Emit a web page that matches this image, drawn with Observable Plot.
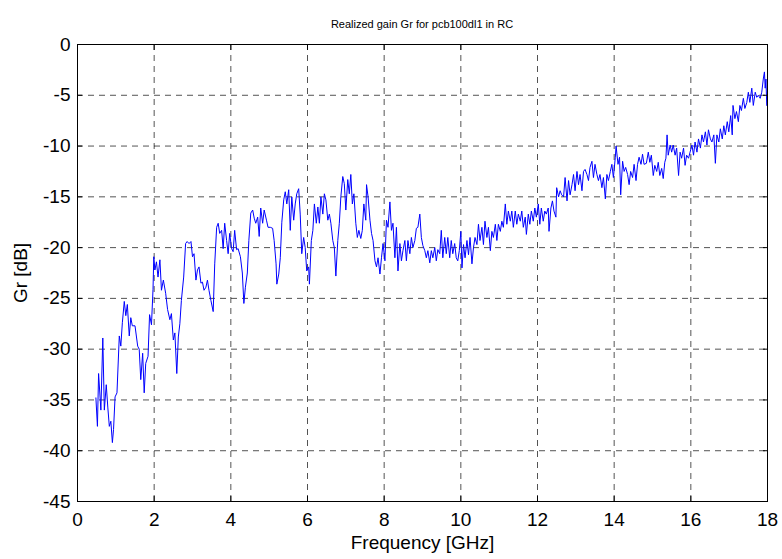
<!DOCTYPE html>
<html>
<head>
<meta charset="utf-8">
<script src="https://cdn.jsdelivr.net/npm/d3@7"></script>
<script src="https://cdn.jsdelivr.net/npm/@observablehq/plot@0.6"></script>
<style>
  body { margin: 0; background: #fff; font-family: "Liberation Sans", Arial, sans-serif; }
  #title { height: 34px; box-sizing: border-box; padding: 18px 15px 0 77px; text-align: center; font-size: 11px; color: #000; line-height: 13px; }
</style>
</head>
<body>
<div id="title">Realized gain Gr for pcb100dl1 in RC</div>
<div id="chart"></div>
<script>
const titleText = "Realized gain Gr for pcb100dl1 in RC";
const xLabel = "Frequency [GHz]";
const yLabel = "Gr [dB]";
const xTicks = [0, 2, 4, 6, 8, 10, 12, 14, 16, 18];
const yTicks = [0, -5, -10, -15, -20, -25, -30, -35, -40, -45];

// Frequency (GHz)
const freq = [
0.48,0.52,0.55,0.61,0.66,0.70,0.75,0.79,0.83,0.87,0.91,0.94,0.98,1.03,1.09,1.13,1.17,1.22,1.26,1.30,1.35,1.39,1.43,1.50,1.57,1.61,1.65,1.70,1.74,1.78,1.84,1.88,1.93,1.97,1.99,2.02,2.06,2.10,2.15,2.19,2.24,2.30,2.35,2.41,2.45,2.50,2.54,2.59,2.63,2.67,2.71,2.77,2.82,2.86,2.91,2.96,3.00,3.04,3.09,3.13,3.17,3.22,3.26,3.30,3.35,3.39,3.43,3.48,3.54,3.58,3.63,3.67,3.71,3.76,3.80,3.84,3.89,3.93,3.97,4.02,4.06,4.10,4.15,4.19,4.25,4.30,4.34,4.38,4.43,4.47,4.52,4.57,4.61,4.65,4.70,4.74,4.78,4.83,4.87,4.93,4.97,
5.03,5.09,5.13,5.18,5.20,5.25,5.29,5.33,5.38,5.42,5.46,5.51,5.55,5.59,5.64,5.68,5.72,5.77,5.81,5.85,5.90,5.94,5.98,6.03,6.05,6.10,6.14,6.18,6.23,6.27,6.31,6.35,6.40,6.44,6.48,6.53,6.57,6.61,6.66,6.70,6.74,6.79,6.83,6.87,6.92,6.96,7.00,7.05,7.09,7.13,7.17,7.21,7.26,7.30,7.34,7.39,7.43,7.47,7.52,7.54,7.58,7.63,7.67,7.71,7.76,7.80,7.84,7.89,7.93,7.97,8.02,8.06,8.10,8.15,8.19,8.23,8.28,8.32,8.36,8.41,8.45,8.49,8.54,8.58,8.62,8.67,8.71,8.75,8.80,8.84,8.88,8.93,8.97,9.01,9.06,9.10,9.14,9.19,9.23,9.27,9.32,9.36,9.40,9.45,9.49,9.53,9.58,9.62,9.66,9.71,9.75,9.79,9.84,9.88,9.92,9.96,
10.00,10.03,10.07,10.11,10.16,10.20,10.24,10.29,10.33,10.37,10.42,10.46,10.50,10.55,10.59,10.63,10.68,10.72,10.77,10.81,10.85,10.90,10.94,10.98,11.03,11.07,11.11,11.16,11.20,11.24,11.29,11.33,11.37,11.42,11.46,11.50,11.55,11.59,11.63,11.68,11.71,11.76,11.80,11.84,11.89,11.93,11.97,12.02,12.06,12.10,12.15,12.19,12.23,12.28,12.30,12.35,12.39,12.43,12.48,12.50,12.55,12.59,12.63,12.68,12.72,12.77,12.81,12.85,12.90,12.94,12.98,13.03,13.07,13.11,13.16,13.20,13.24,13.29,13.33,13.37,13.42,13.46,13.50,13.55,13.59,13.63,13.68,13.72,13.77,13.81,13.85,13.90,13.94,13.98,14.03,14.05,14.10,14.14,14.17,14.22,14.26,14.30,14.35,14.39,14.43,14.48,14.52,14.57,14.61,14.65,14.70,14.74,14.78,
14.84,14.89,14.93,14.97,15.02,15.06,15.11,15.15,15.19,15.24,15.28,15.32,15.35,15.38,15.41,15.46,15.50,15.54,15.59,15.63,15.68,15.72,15.76,15.81,15.85,15.89,15.94,15.98,16.03,16.07,16.11,16.16,16.20,16.25,16.29,16.33,16.38,16.42,16.46,16.51,16.55,16.60,16.64,16.68,16.73,16.77,16.82,16.86,16.90,16.95,16.99,17.04,17.08,17.10,17.15,17.19,17.24,17.28,17.32,17.37,17.41,17.46,17.50,17.54,17.59,17.63,17.68,17.72,17.76,17.81,17.85,17.89,17.92,17.94,17.96,17.98
];

// Realized gain Gr (dB)
const gain = [
-34.8,-37.6,-32.4,-36.0,-28.9,-36.0,-33.5,-35.7,-37.6,-37.1,-39.2,-37.9,-34.7,-34.3,-28.7,-29.7,-27.4,-25.3,-26.7,-25.6,-28.7,-26.9,-27.7,-27.7,-29.7,-30.0,-33.0,-30.4,-34.3,-31.4,-30.7,-26.6,-27.6,-24.1,-20.9,-22.2,-21.4,-22.9,-21.2,-24.2,-23.2,-24.5,-26.1,-27.1,-26.5,-29.1,-28.4,-32.4,-28.8,-27.5,-25.2,-22.9,-19.6,-19.4,-19.6,-19.4,-20.9,-20.6,-23.2,-22.2,-21.9,-23.5,-23.4,-24.2,-23.9,-23.2,-24.2,-25.2,-26.3,-21.6,-18.0,-17.6,-18.6,-18.3,-20.1,-17.6,-19.3,-20.6,-18.6,-20.1,-20.4,-18.3,-20.2,-20.1,-20.9,-22.5,-25.5,-23.9,-22.5,-19.3,-16.6,-16.3,-17.1,-17.6,-17.0,-18.9,-16.1,-17.6,-16.3,-17.3,-18.0,
-18.0,-18.1,-19.3,-21.6,-23.6,-22.6,-21.0,-17.5,-15.3,-14.5,-15.7,-14.3,-18.3,-15.0,-17.3,-15.7,-14.7,-14.2,-16.7,-20.6,-19.0,-20.0,-22.3,-21.9,-23.6,-19.3,-18.3,-15.7,-17.6,-16.0,-17.6,-15.0,-16.7,-14.7,-15.3,-17.3,-16.7,-17.6,-19.3,-20.0,-22.8,-19.3,-17.6,-15.0,-13.0,-13.7,-16.3,-13.3,-14.7,-12.8,-15.7,-14.7,-17.6,-19.0,-18.3,-19.1,-18.3,-15.7,-17.3,-13.8,-15.0,-17.3,-18.6,-19.3,-21.3,-21.9,-21.0,-22.6,-21.0,-19.6,-21.3,-17.3,-18.0,-15.5,-18.3,-17.6,-21.0,-18.0,-22.3,-19.6,-21.3,-20.3,-19.3,-21.3,-19.3,-20.6,-19.0,-20.0,-19.3,-18.1,-18.0,-16.7,-19.0,-19.8,-20.3,-21.0,-20.3,-21.5,-20.3,-21.0,-20.0,-21.3,-20.2,-20.6,-18.3,-21.0,-19.0,-20.6,-19.0,-21.0,-19.3,-20.6,-19.6,-21.0,-21.3,-20.3,
-18.4,-22.0,-19.7,-21.0,-19.3,-20.7,-19.0,-21.6,-20.0,-19.0,-19.7,-17.7,-19.3,-18.0,-19.7,-17.4,-19.0,-18.0,-20.3,-18.4,-19.0,-17.7,-19.3,-17.7,-18.4,-17.4,-18.0,-15.7,-17.7,-16.4,-17.4,-16.4,-18.0,-16.4,-17.7,-16.7,-17.4,-16.4,-18.0,-17.0,-18.7,-16.7,-17.7,-16.4,-17.4,-16.1,-17.0,-15.7,-17.7,-16.1,-17.4,-16.4,-16.7,-16.1,-18.4,-16.1,-15.4,-16.4,-17.0,-14.1,-15.0,-14.4,-14.8,-15.0,-13.1,-15.4,-13.4,-14.8,-13.8,-12.8,-14.4,-12.5,-13.8,-12.8,-14.4,-12.5,-12.3,-12.8,-13.4,-12.1,-11.5,-13.1,-11.8,-12.8,-13.4,-12.8,-14.1,-13.1,-15.2,-12.8,-13.4,-12.5,-11.8,-13.1,-11.1,-10.0,-11.8,-11.1,-14.8,-11.5,-12.5,-12.1,-12.8,-13.8,-12.5,-13.1,-11.8,-13.4,-11.8,-11.1,-11.8,-10.8,-11.8,
-11.7,-10.6,-11.6,-10.9,-12.9,-11.9,-12.5,-11.6,-12.9,-12.2,-13.2,-11.6,-11.2,-8.9,-10.9,-9.9,-10.6,-9.9,-10.9,-10.2,-12.9,-10.6,-11.2,-10.2,-11.9,-10.9,-11.2,-10.6,-9.9,-10.9,-9.6,-10.6,-9.3,-10.2,-8.9,-9.6,-8.6,-9.9,-8.4,-9.3,-9.6,-8.9,-11.7,-8.9,-9.6,-8.3,-9.3,-8.0,-8.9,-7.6,-8.6,-7.0,-8.9,-6.0,-7.3,-6.6,-7.6,-6.0,-6.5,-5.3,-6.3,-5.7,-4.7,-5.7,-4.3,-6.0,-4.7,-5.2,-5.0,-5.3,-4.7,-3.4,-2.7,-4.3,-3.4,-6.0
];

const data = freq.map((f, i) => ({f, g: gain[i]}));
const font = "Liberation Sans, Arial, sans-serif";

const chart = Plot.plot({
  width: 782,
  height: 525,
  marginTop: 10,
  marginBottom: 58,
  marginLeft: 77,
  marginRight: 15,
  style: {fontFamily: font, fontSize: "19px", color: "#000", background: "#fff"},
  x: {domain: [0, 18]},
  y: {domain: [-45, 0]},
  marks: [
    Plot.gridX(xTicks, {stroke: "#000", strokeOpacity: 0.85, strokeWidth: 0.8, strokeDasharray: "6,5"}),
    Plot.gridY(yTicks, {stroke: "#000", strokeOpacity: 0.85, strokeWidth: 0.8, strokeDasharray: "6,5"}),
    Plot.line(data, {x: "f", y: "g", stroke: "#0000ff", strokeWidth: 1}),
    Plot.axisX(xTicks, {anchor: "bottom", tickSize: -5, tickPadding: 16, tickFormat: d => String(d), fontSize: 19,
      label: xLabel, labelAnchor: "center", labelOffset: 47, labelArrow: "none"}),
    Plot.axisX(xTicks, {anchor: "top", tickSize: -5, tickFormat: () => "", label: null}),
    Plot.axisY(yTicks, {anchor: "left", tickSize: -5, tickPadding: 12, tickFormat: d => String(d), fontSize: 19,
      label: yLabel, labelAnchor: "center", labelOffset: 64, labelArrow: "none"}),
    Plot.axisY(yTicks, {anchor: "right", tickSize: -5, tickFormat: () => "", label: null}),
    Plot.frame({stroke: "#000", strokeWidth: 1})
  ]
});
document.getElementById("chart").appendChild(chart);
</script>
</body>
</html>
